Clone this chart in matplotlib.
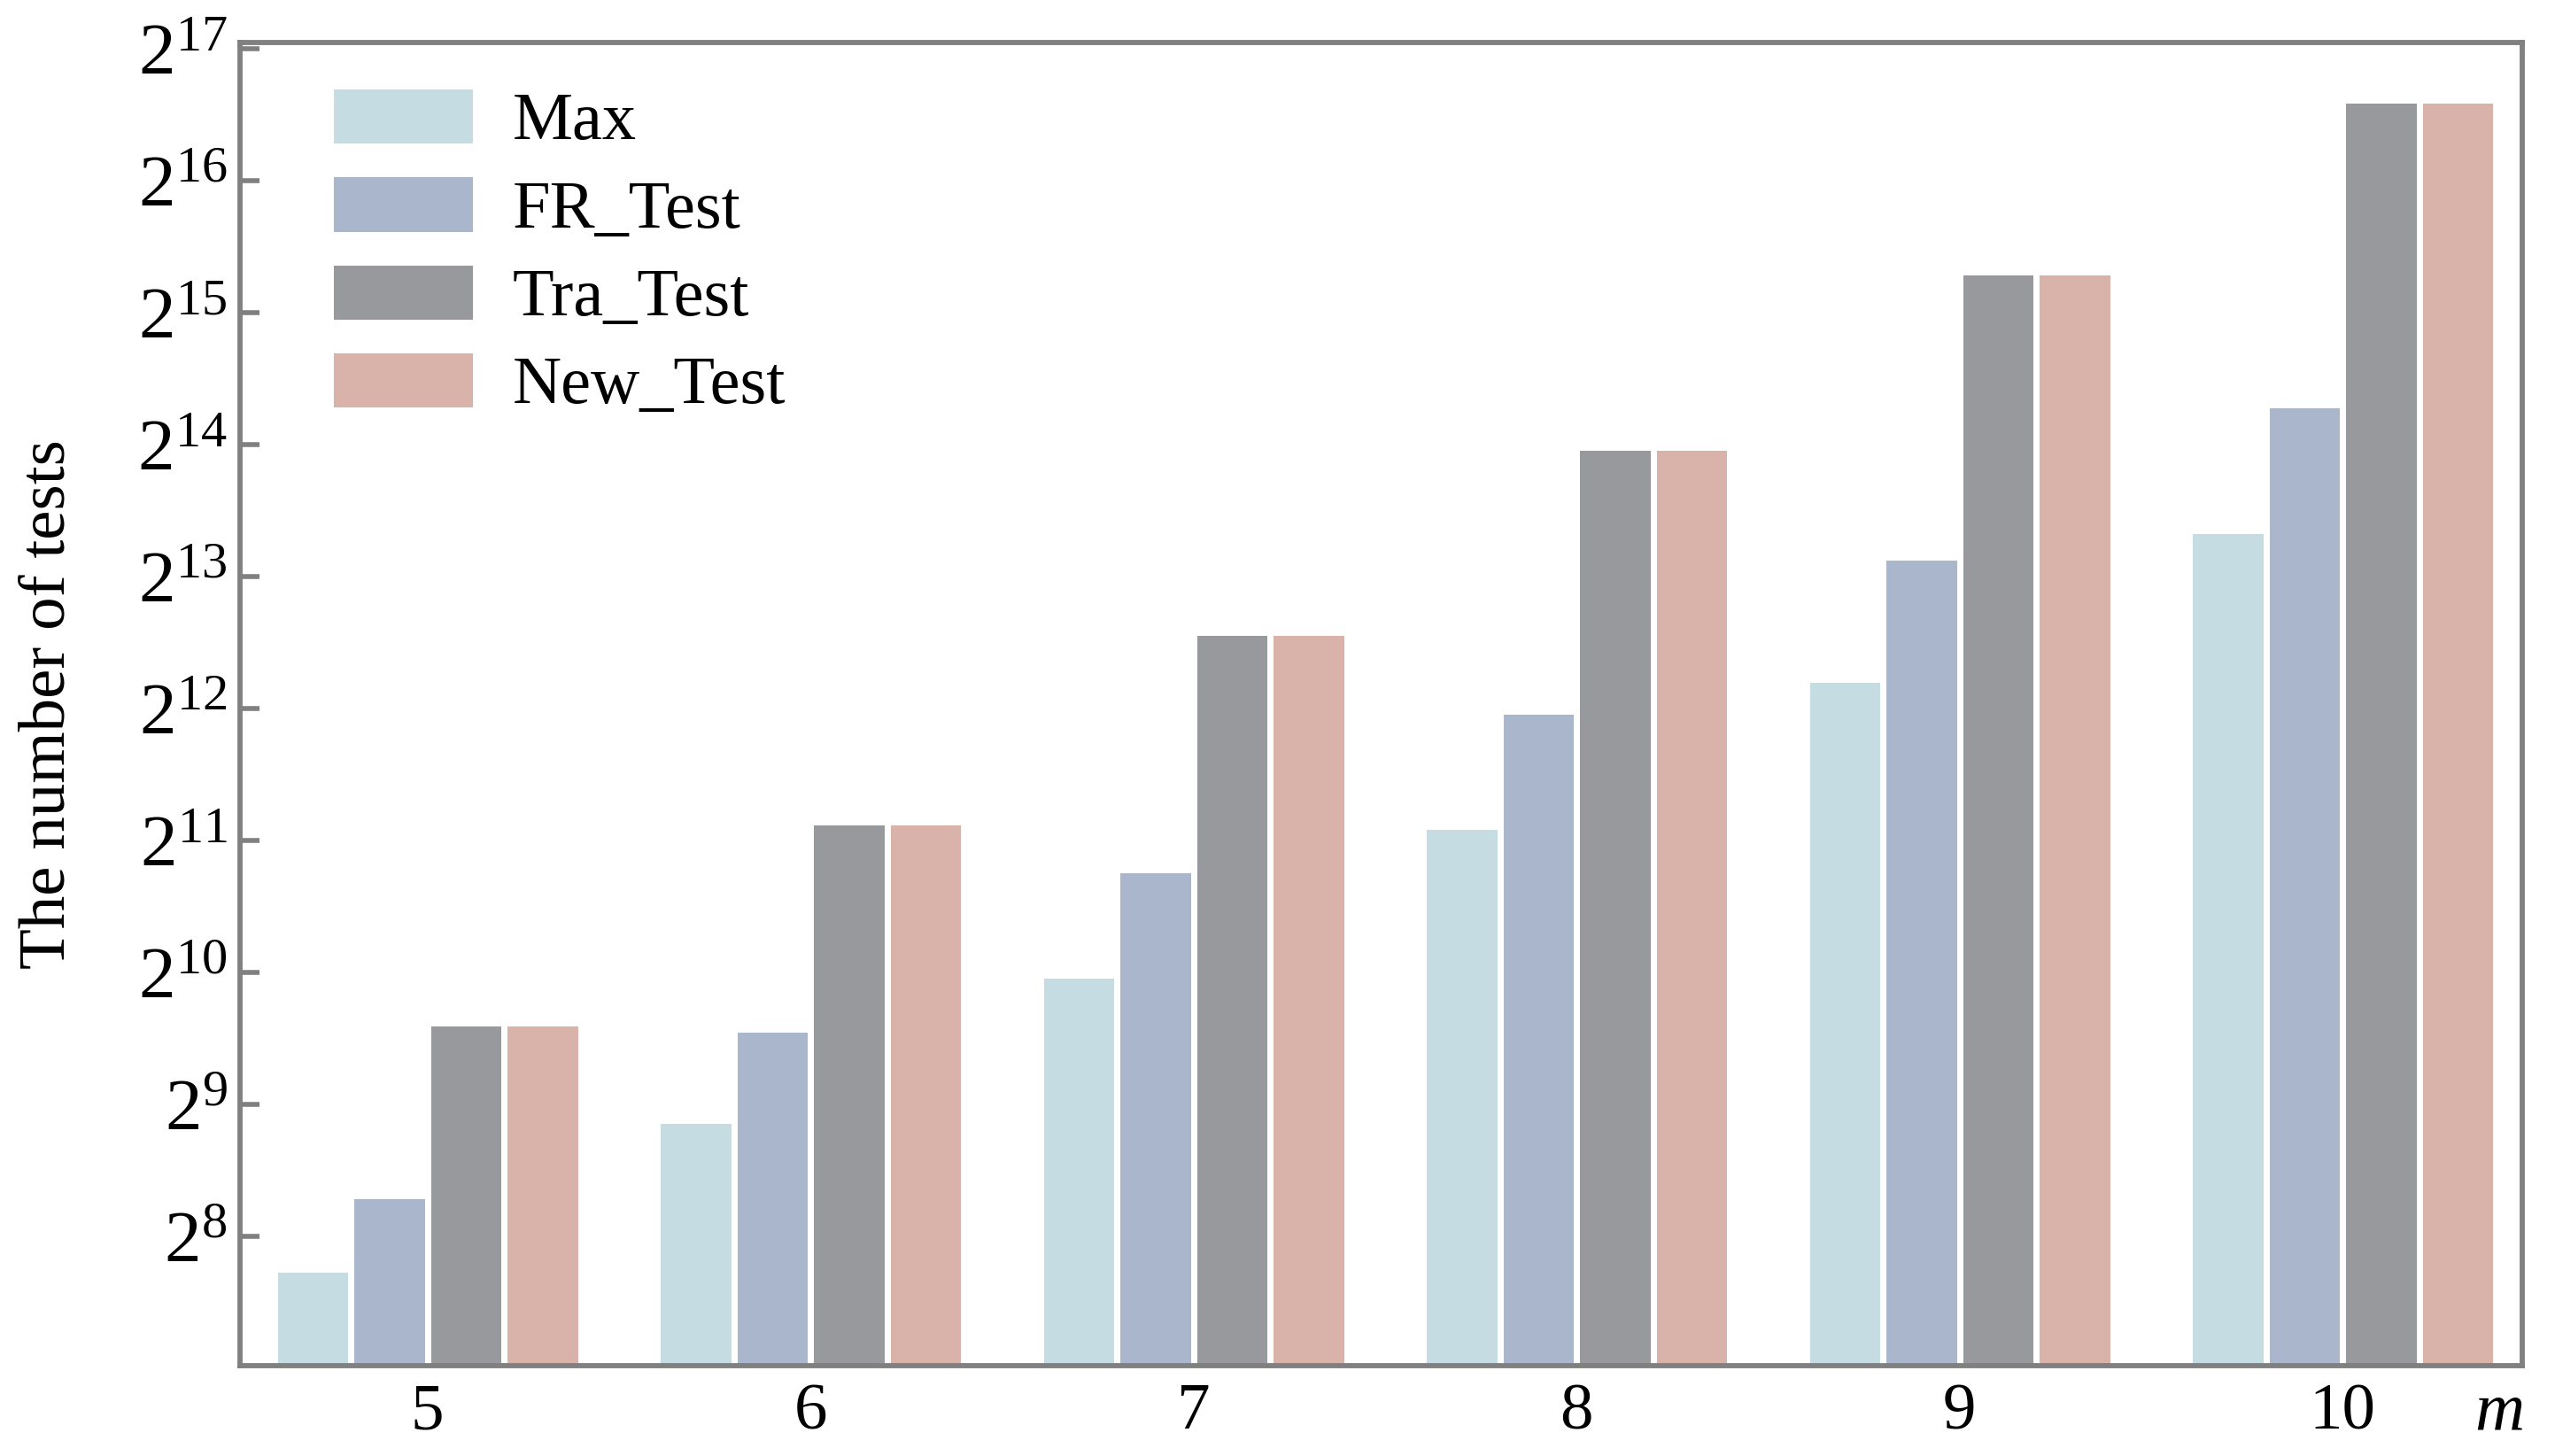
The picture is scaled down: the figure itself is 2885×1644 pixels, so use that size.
import matplotlib
matplotlib.use("Agg")
import matplotlib.pyplot as plt
import numpy as np

# values (log2 of the number of tests)
m_values = ["5", "6", "7", "8", "9", "10"]
series_names = ["Max", "FR_Test", "Tra_Test", "New_Test"]
max_log2 = [7.75, 8.88, 9.98, 11.11, 12.22, 13.35]
fr_log2 = [8.31, 9.57, 10.78, 11.98, 13.15, 14.30]
tra_log2 = [9.62, 11.14, 12.58, 13.98, 15.31, 16.61]
new_log2 = [9.62, 11.14, 12.58, 13.98, 15.31, 16.61]
colors = ["#c5dce3", "#aab6cc", "#98999d", "#d9b2a9"]

plt.rcParams['font.family'] = ['Liberation Serif', 'DejaVu Serif']
plt.rcParams['mathtext.fontset'] = 'custom'
plt.rcParams['mathtext.rm'] = 'Liberation Serif'
plt.rcParams['mathtext.it'] = 'Liberation Serif:italic'

def main():
    fig = plt.figure(figsize=(28.85, 16.44), dpi=100)
    ax = fig.add_axes([0.0938, 0.062, 0.8935, 0.909])

    x = np.arange(len(m_values))
    w = 0.2
    all_series = [max_log2, fr_log2, tra_log2, new_log2]
    for i, vals in enumerate(all_series):
        ax.bar(x + (i - 1.5) * w, 2.0 ** np.array(vals), width=w,
               color=colors[i], edgecolor="white", linewidth=5,
               label=series_names[i], zorder=2)

    ax.set_yscale("log", base=2)
    ax.set_ylim(2 ** 7.02, 2 ** 17.05)
    ax.set_xlim(-0.49, 5.47)
    yt = np.arange(8, 18)
    ax.set_yticks(2.0 ** yt)
    ax.set_yticklabels([r"$2^{%d}$" % k for k in yt])
    ax.minorticks_off()
    ax.set_xticks(x)
    ax.set_xticklabels(m_values)

    for s in ax.spines.values():
        s.set_color("#808080")
        s.set_linewidth(4.2)
    ax.tick_params(axis="both", direction="in", color="#808080", width=4)
    ax.tick_params(axis="y", length=16, labelsize=60, pad=10)
    ax.tick_params(axis="x", length=12, labelsize=54, pad=14)

    ax.set_ylabel("The number of tests", fontsize=54, labelpad=48)
    ax.text(0.99, -0.012, "m", transform=ax.transAxes, fontsize=56,
            fontstyle="italic", ha="center", va="top")

    ax.legend(loc="upper left", frameon=False, fontsize=55,
              handlelength=2.15, handleheight=1.0, labelspacing=0.3,
              handletextpad=0.55, bbox_to_anchor=(0.013, 1.013))

    fig.savefig("out.png", dpi=100)

if __name__ == "__main__":
    main()
